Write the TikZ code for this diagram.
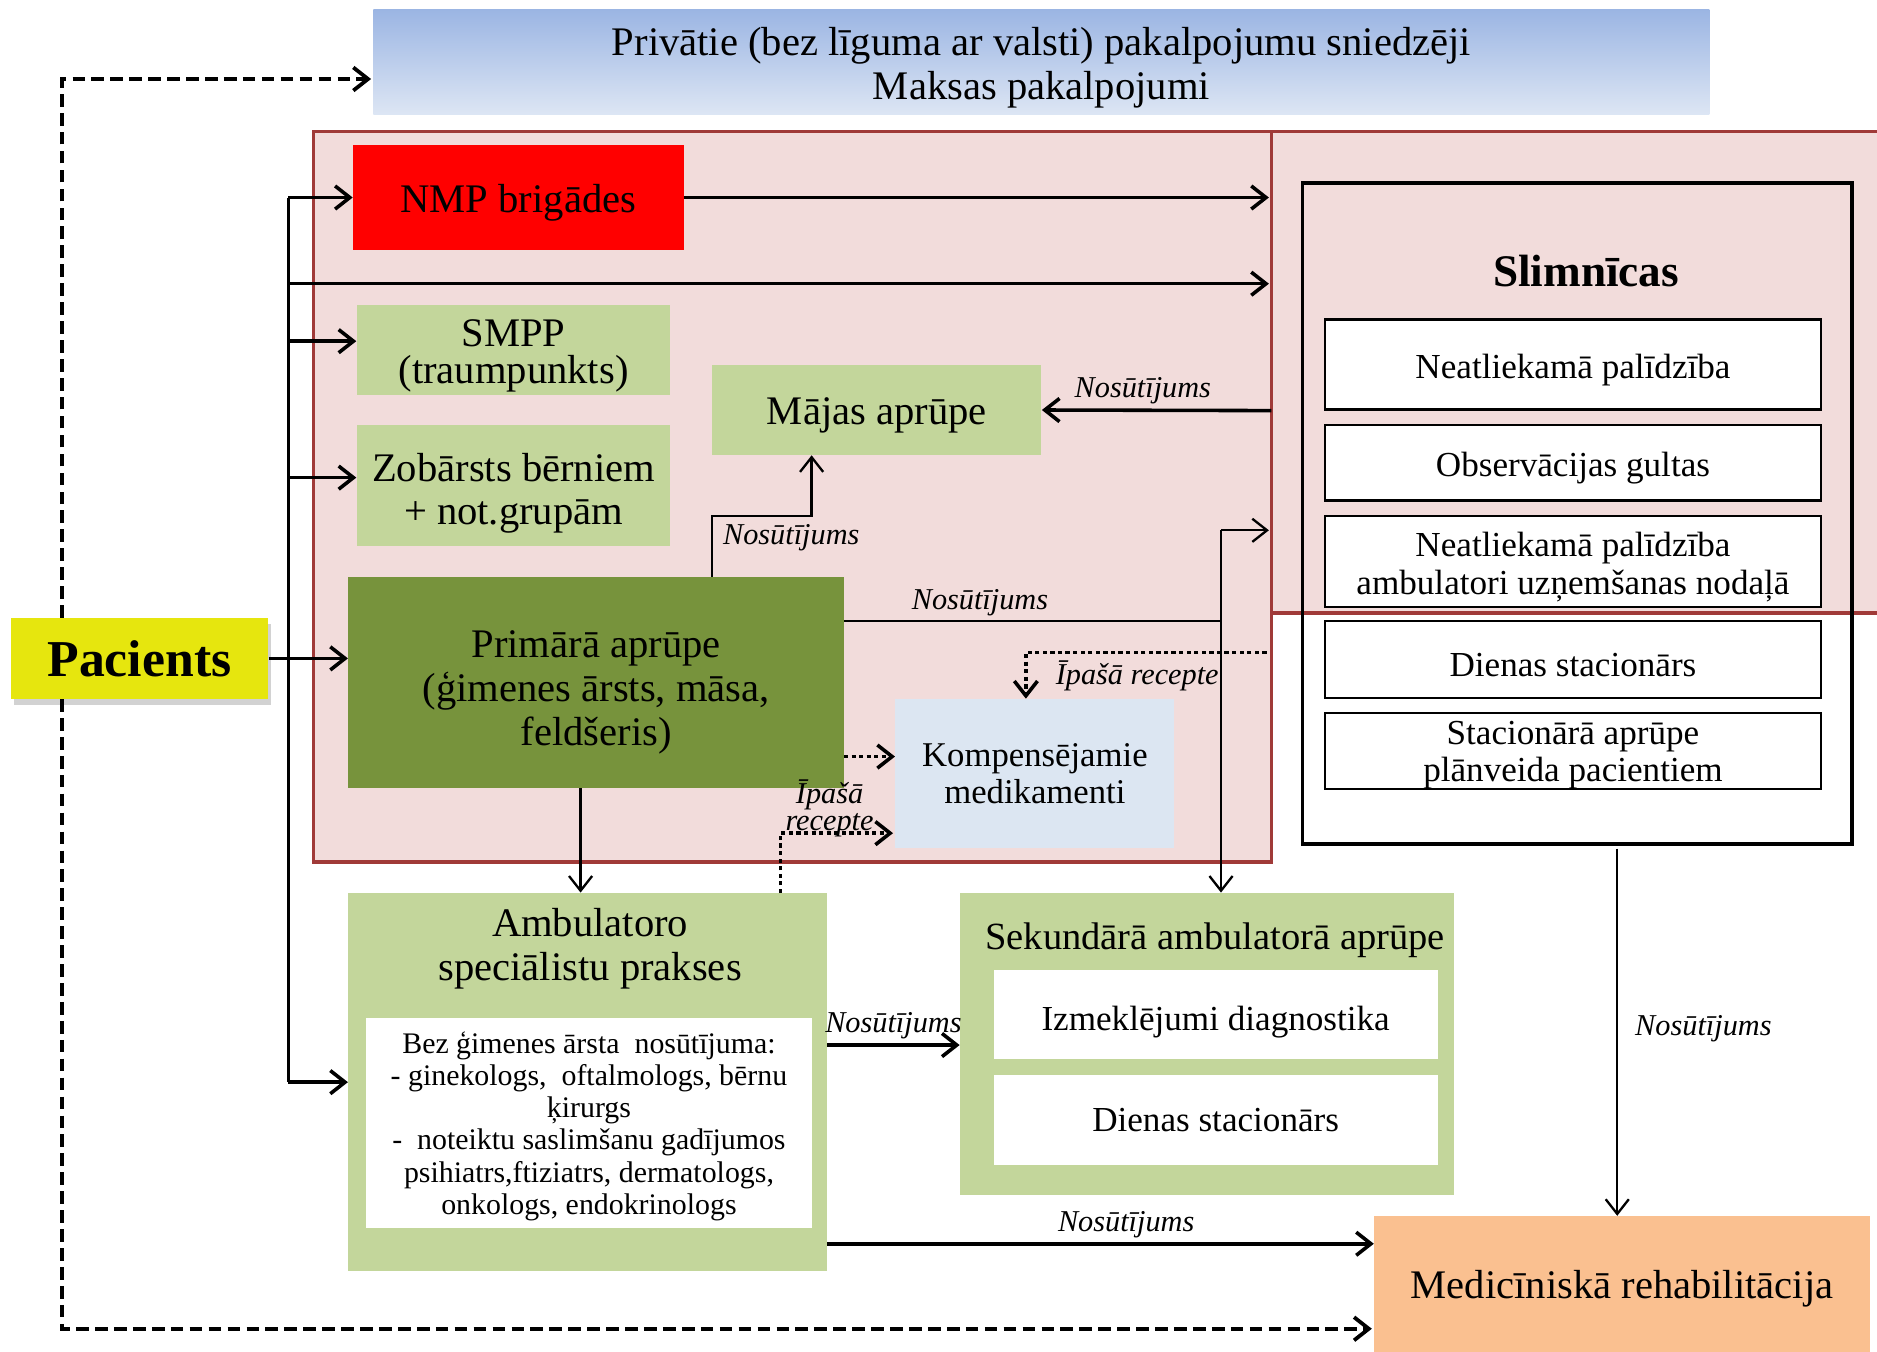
\documentclass[tikz,border=0pt]{standalone}
\usepackage{fontspec}
\setmainfont{Liberation Serif}
\usetikzlibrary{arrows.meta,shadows}

\definecolor{rozs}{HTML}{F2DCDB}
\definecolor{sarkmala}{HTML}{A03A38}
\definecolor{zalgais}{HTML}{C3D69B}
\definecolor{zaltums}{HTML}{77933C}
\definecolor{zilgais}{HTML}{DCE6F2}
\definecolor{zilaug}{HTML}{9BB5E3}
\definecolor{zilapak}{HTML}{DDE6F4}
\definecolor{dzeltens}{HTML}{E6E60E}
\definecolor{oranzs}{HTML}{FAC090}

\newcommand\lielsz{\fontsize{19.3}{21}\selectfont}
\newcommand\vidsz{\fontsize{16.7}{18}\selectfont}
\newcommand\mazsz{\fontsize{14.2}{15.3}\selectfont}
\newcommand\zm[1][0.95em]{\rule{0pt}{#1}}

\begin{document}
\begin{tikzpicture}[x=0.02cm,y=-0.02cm,
    every node/.style={inner sep=0pt, align=center},
    sz/.style 2 args={minimum width=#1*0.02cm, minimum height=#2*0.02cm},
    zem/.style={execute at begin node={\rule{0pt}{#1}}},
    box/.style={font=\lielsz, zem=#1}, box/.default=0.95em,
    hbox/.style={draw=black, fill=white, line width=1.1pt, font=\vidsz, zem=1em},
    lbl/.style={font=\fontsize{14.4}{13}\selectfont\itshape, inner sep=2pt},
    arr/.style={-{Straight Barb[length=7pt,width=11pt]}, line width=1.1pt},
    biezs/.style={line width=1.7pt},
    punkt/.style={line width=1.7pt, dash pattern=on 2pt off 1.6pt},
    svitr/.style={line width=1.8pt, dash pattern=on 6pt off 3pt}]
    \useasboundingbox (0,0) rectangle (1568,1129);

    % fons
    \fill[rozs] (262,110) rectangle (1062,720);
    \fill[rozs] (1062,110) rectangle (1600,512);
    \draw[sarkmala, line width=1.7pt] (262,110) rectangle (1062,720);
    \draw[sarkmala, line width=1.7pt] (1062,110) rectangle (1600,512);

    \node[box, sz={1116}{88}, top color=zilaug, bottom color=zilapak] (priv) at (870,52)
        {\zm Privātie (bez līguma ar valsti) pakalpojumu sniedzēji\\Maksas pakalpojumi};

    \node[box, sz={276}{88}, fill=red] (nmp) at (433,165) {NMP brigādes};
    \node[box, sz={262}{75}, fill=zalgais, font=\fontsize{19.3}{17.5}\selectfont] (smpp) at (429,292.5) {\zm SMPP\\(traumpunkts)};
    \node[box, sz={262}{101}, fill=zalgais, font=\fontsize{19.3}{20.5}\selectfont] (zob) at (429,405.5) {\zm[1.1em]Zobārsts bērniem\\+ not.grupām};
    \node[box, sz={275}{75}, fill=zalgais] (majas) at (732.5,342.5) {Mājas aprūpe};
    \node[box, sz={414}{176}, fill=zaltums] (prim) at (498,570) {\zm[1.16em]Primārā aprūpe\\(ģimenes ārsts, māsa,\\feldšeris)};
    \node[sz={233}{124}, fill=zilgais, font=\fontsize{16.5}{17.6}\selectfont] (komp) at (864.5,646) {Kompensējamie\\medikamenti};
    \node[sz={215}{68}, fill=dzeltens, font=\fontsize{24.6}{26}\selectfont\bfseries,
        drop shadow={shadow xshift=1.5pt, shadow yshift=-3pt, fill=black!35}] (pac) at (116.5,550) {Pacients};

    % slimnicas
    \node[sz={459}{552}, draw=black, line width=1.7pt] (slim) at (1317.5,429) {};
    \node[font=\fontsize{21.5}{23}\selectfont\bfseries] (slimt) at (1325,226) {Slimnīcas};
    \node[hbox, sz={414}{75}] (h1) at (1314,304.5) {Neatliekamā palīdzība};
    \node[hbox, sz={414}{63}] (h2) at (1314,386.5) {Observācijas gultas};
    \node[hbox, sz={414}{76}] (h3) at (1314,469) {\zm[1em]Neatliekamā palīdzība\\ambulatori uzņemšanas nodaļā};
    \node[hbox, sz={414}{64}] (h4) at (1314,551) {Dienas stacionārs};
    \node[hbox, sz={414}{63}, font=\fontsize{16.7}{17.6}\selectfont] (h5) at (1314,627.5) {\zm[0.9em]Stacionārā aprūpe\\plānveida pacientiem};

    % ambulatorie
    \node[sz={400}{316}, fill=zalgais] (amb) at (491,904) {};
    \node[box] (ambt) at (493,792.5) {Ambulatoro\\speciālistu prakses};
    \node[sz={372}{176}, fill=white, font=\mazsz] (ambi) at (492,938)
        {\zm Bez ģimenes ārsta\ \ nosūtījuma:\\- ginekologs,\ \ oftalmologs, bērnu\\ķirurgs\\-\ \ noteiktu saslimšanu gadījumos\\psihiatrs,ftiziatrs, dermatologs,\\onkologs, endokrinologs};

    \node[sz={413}{252}, fill=zalgais] (sek) at (1008.5,872) {};
    \node[box, font=\fontsize{18.3}{20}\selectfont] (sekt) at (1015,781) {Sekundārā ambulatorā aprūpe};
    \node[sz={371}{75}, fill=white, font=\vidsz, zem=1.1em] (izm) at (1015.5,847.5) {Izmeklējumi diagnostika};
    \node[sz={371}{75}, fill=white, font=\vidsz] (dien) at (1015.5,935.5) {Dienas stacionārs};

    \node[box, sz={414}{113}, fill=oranzs] (reh) at (1355,1072.5) {Medicīniskā rehabilitācija};

    % bultas no pacienta
    \coordinate (b0) at (241,165);
    \coordinate (b1) at (241,904);
    \coordinate (b2) at (241,237);
    \coordinate (b3) at (241,285);
    \coordinate (b4) at (241,399);
    \coordinate (e1) at (1060,165);
    \coordinate (e2) at (1060,237);
    \draw[line width=1.1pt] (b0) -- (b1);
    \draw[arr, biezs] (b0) -- (nmp.west);
    \draw[arr, biezs] (b2) -- (e2);
    \draw[arr, biezs] (b3) -- (b3 -| smpp.west);
    \draw[arr, biezs] (b4) -- (b4 -| zob.west);
    \draw[arr, biezs] (b1) -- (amb.west);
    \draw[arr, biezs] (pac.east) -- (pac.east -| prim.west);
    \draw[arr, biezs] (nmp.east) -- (e1);

    % nosutijumi
    \coordinate (s1) at (1062,343);
    \draw[arr, biezs] (s1) -- (majas.east) node[lbl, above, pos=.56] {Nosūtījums};
    \coordinate (p1) at (595,482);
    \coordinate (p2) at (678,431);
    \draw[arr] (p1) |- (p2) -- (p2 |- majas.south);
    \node[lbl] (l1) at (661,449.5) {Nosūtījums};
    \coordinate (p3) at (1020,519);
    \coordinate (p4) at (1020,443);
    \coordinate (p5) at (1060,443);
    \draw[line width=1.1pt] (prim.east |- p3) -- (p3) node[lbl, above, pos=.36] {Nosūtījums};
    \draw[arr] (p4) -- (p4 |- sek.north);
    \draw[arr] (p4) -- (p5);
    \draw[arr] (prim.south -| 485,0) -- (amb.north -| 485,0);

    % ipasa recepte
    \coordinate (r1) at (1058,545);
    \draw[arr, punkt] (r1) -| (komp.north -| 857,0);
    \node[lbl] (l2) at (950,565) {Īpašā recepte};
    \coordinate (r2) at (705,632);
    \draw[arr, punkt] (r2) -- (r2 -| komp.west);
    \coordinate (r3) at (652,746);
    \coordinate (r4) at (746,696);
    \draw[arr, punkt] (r3) |- (r4);
    \node[lbl] (l3) at (693,675.5) {Īpašā\\recepte};

    % uz sekundaro un rehabilitaciju
    \coordinate (a1) at (691,873);
    \draw[arr, biezs] (a1) -- (a1 -| sek.west) node[lbl, above, midway] {Nosūtījums};
    \coordinate (a2) at (691,1039);
    \draw[arr, biezs] (a2) -- (a2 -| reh.west) node[lbl, above, pos=.547] {Nosūtījums};
    \coordinate (a3) at (1351,709);
    \draw[arr] (a3) -- (a3 |- reh.north) node[lbl, right=6pt, pos=.49] {Nosūtījums};

    % privatie un rehabilitacija (svitrots)
    \coordinate (d1) at (52,516);
    \coordinate (d2) at (310,66);
    \coordinate (d3) at (52,584);
    \coordinate (d4) at (1146,1110);
    \draw[arr, svitr] (d1) |- (d2);
    \draw[arr, svitr] (d3) |- (d4);
\end{tikzpicture}
\end{document}
